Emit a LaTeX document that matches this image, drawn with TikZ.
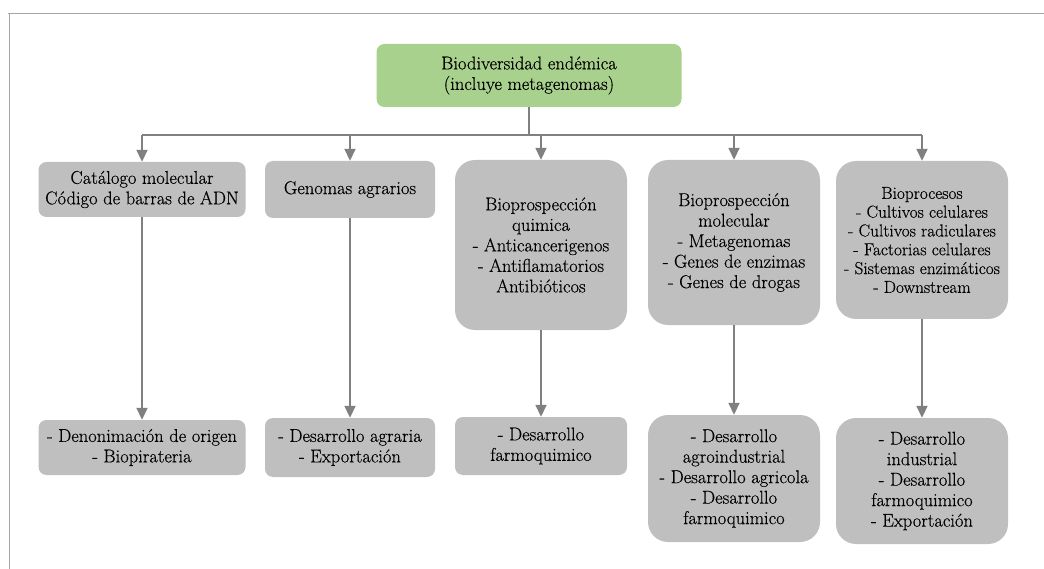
\documentclass[tikz,border=0pt]{standalone}
\usepackage{fontspec}
\newfontfamily\diagserif{Latin Modern Roman}[FakeBold=0.4]
\usetikzlibrary{arrows.meta}
\definecolor{boxgray}{HTML}{BFBFBF}
\definecolor{rootgreen}{HTML}{A9D18E}
\definecolor{linegray}{HTML}{808080}
\definecolor{framegray}{HTML}{A6A6A6}
\tikzset{
  basebox/.style={fill=boxgray, draw=none, align=center, inner sep=0pt,
    font=\diagserif\fontsize{18.5}{20.5}\selectfont},
  smallbox/.style={basebox, rounded corners=8pt},
  bigbox/.style={basebox, rounded corners=20pt},
  rootbox/.style={basebox, fill=rootgreen, rounded corners=8pt},
  conn/.style={draw=linegray, line width=1.8pt},
  arr/.style={conn, -{Triangle[width=11pt,length=12pt]}},
  frame/.style={draw=framegray, line width=1pt}
}
\begin{document}
\begin{tikzpicture}[x=1pt,y=-1pt]
\useasboundingbox (0,0) rectangle (1044,569);
\draw[frame] (8,14) -- (1044,14);
\draw[frame] (9,14) -- (9,569);

\node[rootbox, minimum width=305pt, minimum height=63pt] (root) at (529,75.5)
  {Biodiversidad endémica\\(incluye metagenomas)};

\node[smallbox, minimum width=207pt, minimum height=55pt] (b1) at (142,189.5)
  {Catálogo molecular\\Código de barras de ADN};
\node[smallbox, minimum width=170pt, minimum height=57pt] (b2) at (350,189.5)
  {Genomas agrarios};
\node[bigbox, minimum width=172pt, minimum height=170pt] (b3) at (541,245)
  {Bioprospección\\quimica\\- Anticancerigenos\\- Antiflamatorios\\Antibióticos};
\node[bigbox, minimum width=172pt, minimum height=165pt] (b4) at (734,242.5)
  {Bioprospección\\molecular\\- Metagenomas\\- Genes de enzimas\\- Genes de drogas};
\node[bigbox, minimum width=172pt, minimum height=158pt, font=\diagserif\fontsize{17.3}{18.8}\selectfont] (b5) at (922,240)
  {Bioprocesos\\- Cultivos celulares\\- Cultivos radiculares\\- Factorias celulares\\- Sistemas enzimáticos\\- Downstream};

\node[smallbox, minimum width=207pt, minimum height=55pt] (r1) at (142,447.5)
  {- Denonimación de origen\\- Biopirateria};
\node[smallbox, minimum width=170pt, minimum height=59pt] (r2) at (350,447.5)
  {- Desarrollo agraria\\- Exportación};
\node[smallbox, minimum width=172pt, minimum height=58pt] (r3) at (541,446)
  {- Desarrollo\\farmoquimico};
\node[bigbox, minimum width=172pt, minimum height=127pt] (r4) at (734,478.5)
  {- Desarrollo\\agroindustrial\\- Desarrollo agricola\\- Desarrollo\\farmoquimico};
\node[bigbox, minimum width=172pt, minimum height=126pt] (r5) at (922,481)
  {- Desarrollo\\industrial\\- Desarrollo\\farmoquimico\\- Exportación};

\coordinate (bus) at (529,135);
\draw[conn] (root.south) -- (bus);
\draw[conn] (b1.north |- bus) -- (b5.north |- bus);
\foreach \b in {b1,b2,b3,b4,b5}{
  \draw[arr] (\b.north |- bus) -- (\b.north);
}
\foreach \a/\b in {b1/r1,b2/r2,b3/r3,b4/r4,b5/r5}{
  \draw[arr] (\a.south) -- (\b.north);
}
\end{tikzpicture}
\end{document}
